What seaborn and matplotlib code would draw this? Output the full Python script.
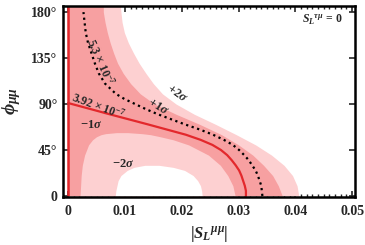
import numpy as np
import pandas as pd
import matplotlib
matplotlib.use("Agg")
import matplotlib.pyplot as plt
import seaborn as sns
from matplotlib.ticker import MultipleLocator

# phase grid (degrees) and boundaries, in |S_L|
phi_out = [0, 10, 20, 30, 40, 50, 60, 70, 80, 90, 100, 110, 120, 130, 140, 150, 160, 170, 180, 186]
x_plus2 = [0.0406, 0.0403, 0.0395, 0.0380, 0.0358, 0.0330, 0.0296, 0.0260, 0.0222, 0.0190,
           0.0166, 0.0150, 0.0137, 0.0125, 0.0115, 0.0106, 0.0099, 0.0095, 0.0093, 0.0092]
x_plus1 = [0.0377, 0.0370, 0.0360, 0.0344, 0.0325, 0.0300, 0.0270, 0.0232, 0.0190, 0.0152,
           0.0127, 0.0110, 0.0097, 0.0087, 0.0080, 0.0074, 0.0069, 0.0065, 0.0062, 0.0062]

# -1 sigma contour (inner light region)
phi_m1 = [0, 10, 20, 30, 40, 50, 55, 58, 60, 61, 62]
x_m1_left = [0.0021, 0.0022, 0.0023, 0.0025, 0.0029, 0.0036, 0.0043, 0.0050, 0.0058, 0.0066, 0.0085]
x_m1_right = [0.0294, 0.0290, 0.0281, 0.0268, 0.0247, 0.0212, 0.0185, 0.0162, 0.0145, 0.0130, 0.0105]

# -2 sigma contour (white hole)
phi_m2 = [0, 5, 10, 15, 20, 25, 28, 30]
x_m2_left = [0.0083, 0.0084, 0.0086, 0.0088, 0.0093, 0.0104, 0.0116, 0.0135]
x_m2_right = [0.0236, 0.0235, 0.0233, 0.0228, 0.0220, 0.0205, 0.0185, 0.0160]

# 5.3e-7 dotted contour
phi_dot = [0, 5, 10, 15, 20, 25, 30, 35, 40, 45, 50, 55, 60, 65, 70, 75, 80, 85, 90,
           95, 100, 110, 120, 130, 140, 150, 160, 170, 180]
x_dot = [0.0342, 0.0341, 0.0340, 0.0337, 0.0334, 0.0330, 0.0324, 0.0318, 0.0310, 0.0301,
         0.0290, 0.0274, 0.0255, 0.0232, 0.0206, 0.0182, 0.0158, 0.0137, 0.0118,
         0.0099, 0.0084, 0.0065, 0.0054, 0.0047, 0.0041, 0.0035, 0.0031, 0.0029, 0.0027]

# 3.92e-7 central contour
phi_red = [0, 5, 10, 15, 20, 25, 30, 35, 40, 45, 50, 55, 60, 65, 70, 75, 80, 85, 91]
x_red = [0.0313, 0.0313, 0.0311, 0.0308, 0.0305, 0.0301, 0.0295, 0.0288, 0.0280, 0.0269,
         0.0254, 0.0233, 0.0207, 0.0174, 0.0141, 0.0107, 0.0073, 0.0040, 0.0]
phi_red_axis = [0, 186]
x_red_axis = [0.0, 0.0]

x_ticks = [0, 0.01, 0.02, 0.03, 0.04, 0.05]
x_ticklabels = ["0", "0.01", "0.02", "0.03", "0.04", "0.05"]
y_ticks = [0, 45, 90, 135, 180]
y_ticklabels = ["0", "45°", "90°", "135°", "180°"]

light = "#FDD0D1"
dark = "#F7A0A1"
red = "#E3282C"

sns.set_theme(style="ticks")
plt.rcParams["font.family"] = ["Liberation Serif", "DejaVu Serif"]
plt.rcParams["font.weight"] = "bold"
plt.rcParams["mathtext.fontset"] = "custom"
plt.rcParams["mathtext.rm"] = "Liberation Serif:bold"
plt.rcParams["mathtext.it"] = "Liberation Serif:italic:bold"
plt.rcParams["mathtext.bf"] = "Liberation Serif:bold"

fig = plt.figure(figsize=(3.65, 2.45), dpi=100)
ax = fig.add_axes([0.1726, 0.196, 0.80, 0.7795])

# bands
ax.fill_betweenx(phi_out, 0, x_plus2, color=light, lw=0)
ax.fill_betweenx(phi_out, 0, x_plus1, color=dark, lw=0)
ax.fill_betweenx(phi_m1, x_m1_left, x_m1_right, color=light, lw=0)
ax.fill_betweenx(phi_m2, x_m2_left, x_m2_right, color="white", lw=0)

# contour lines
df_dot = pd.DataFrame({"x": x_dot, "phi": phi_dot})
sns.lineplot(data=df_dot, x="x", y="phi", sort=False, estimator=None, color="black",
             lw=1.6, linestyle=(0, (1, 1.6)), ax=ax)
df_red = pd.DataFrame({"x": x_red, "phi": phi_red})
sns.lineplot(data=df_red, x="x", y="phi", sort=False, estimator=None, color=red, lw=1.6, ax=ax)
ax.plot(x_red_axis, phi_red_axis, color=red, lw=1.8, solid_capstyle="butt")

# labels on curves
ax.text(0.0057, 131, r"5.3 $\times$ 10$^{-7}$", fontsize=8.5, rotation=-66,
        ha="center", va="center")
ax.text(0.0053, 88, r"3.92 $\times$ 10$^{-7}$", fontsize=8.5, rotation=-20,
        ha="center", va="center")
ax.text(0.0158, 87, r"+1$\sigma$", fontsize=9, rotation=-32, ha="center", va="center")
ax.text(0.0192, 100, r"+2$\sigma$", fontsize=9, rotation=-36, ha="center", va="center")
ax.text(0.0040, 69, r"$-$1$\sigma$", fontsize=9, ha="center", va="center")
ax.text(0.0097, 31, r"$-$2$\sigma$", fontsize=9, ha="center", va="center")
ax.text(0.0447, 172, r"$S_L$$^{\tau\mu}$ = 0", fontsize=8.5, ha="center", va="center")

ax.set_xlim(-0.0009, 0.0505)
ax.set_ylim(-1, 186)
ax.set_xticks(x_ticks)
ax.set_xticklabels(x_ticklabels, fontsize=10, fontweight="bold")
ax.set_yticks(y_ticks)
ax.set_yticklabels(y_ticklabels, fontsize=10, fontweight="bold")
ax.xaxis.set_minor_locator(MultipleLocator(0.001))
ax.tick_params(which="major", direction="in", top=True, right=True, length=4, width=1.2)
ax.tick_params(which="major", axis="x", pad=6)
ax.tick_params(which="major", axis="y", pad=4)
ax.tick_params(which="minor", axis="x", direction="in", top=True, bottom=True, length=2.5, width=1.0)
ax.tick_params(which="minor", axis="y", left=False, right=False)
for s in ax.spines.values():
    s.set_linewidth(1.8)
    s.set_color("black")

ax.set_xlabel(r"$|S_L$$^{\mu\mu}|$", fontsize=12, labelpad=4)
ax.set_ylabel(r"$\phi_{\mu\mu}$", fontsize=14)
ax.yaxis.set_label_coords(-0.138, 0.5)

fig.savefig("out.png", dpi=100)
